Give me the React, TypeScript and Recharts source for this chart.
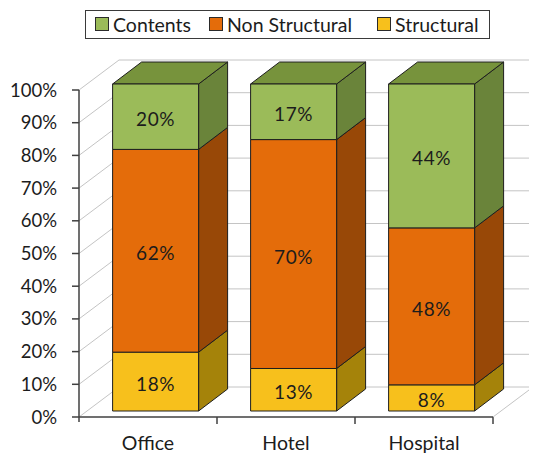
import React from 'react';
import { BarChart, Bar, XAxis, YAxis, CartesianGrid, LabelList, Legend } from 'recharts';

const categories = ['Office', 'Hotel', 'Hospital'];
const structural = [18, 13, 8];
const nonStructural = [62, 70, 48];
const contents = [20, 17, 44];
const yTicks = [0, 10, 20, 30, 40, 50, 60, 70, 80, 90, 100];
const seriesKeys = ['structural', 'nonStructural', 'contents'];
const seriesNames = ['Structural', 'Non Structural', 'Contents'];

const data = categories.map((c, i) => ({
  name: c,
  structural: structural[i],
  nonStructural: nonStructural[i],
  contents: contents[i],
}));

const FONT = 'Lato, "DejaVu Sans", sans-serif';
const TEXT = '#1c1c1c';
const WALL_DX = 40;
const WALL_DY = -30;
const FRONT_DX = 7.6;
const FRONT_DY = -6;
const BAR_DX = 29;
const BAR_DY = -22;

const COLORS: Record<string, { front: string; side: string; top: string }> = {
  structural: { front: '#F7C01C', side: '#A5830A', top: '#C89B0E' },
  nonStructural: { front: '#E46C0A', side: '#984807', top: '#B2560A' },
  contents: { front: '#9BBB59', side: '#6A843A', top: '#77933C' },
};

const makeShape = (key: string, drawTop: boolean) => (props: any) => {
  const { x, y, width, height } = props;
  if (!height) return <g />;
  const c = COLORS[key];
  const fx = x + FRONT_DX;
  const fy = y + FRONT_DY;
  const r = fx + width;
  const b = fy + height;
  return (
    <g stroke="#1e1e1e" strokeWidth={1} strokeLinejoin="round">
      <path d={`M${r},${fy} L${r + BAR_DX},${fy + BAR_DY} L${r + BAR_DX},${b + BAR_DY} L${r},${b} Z`} fill={c.side} />
      {drawTop && (
        <path d={`M${fx},${fy} L${fx + BAR_DX},${fy + BAR_DY} L${r + BAR_DX},${fy + BAR_DY} L${r},${fy} Z`} fill={c.top} />
      )}
      <rect x={fx} y={fy} width={width} height={height} fill={c.front} />
    </g>
  );
};

const barLabel = (p: any) => (
  <text
    x={p.x + p.width / 2 + FRONT_DX}
    y={p.y + p.height / 2 + FRONT_DY + 2}
    textAnchor="middle"
    dominantBaseline="central"
    fontSize={19}
    letterSpacing={0.6}
    fontFamily={FONT}
    fill={TEXT}
  >
    {`${p.value}%`}
  </text>
);

const gridLine = (p: any) => {
  const { x1, y1, x2 } = p;
  return (
    <path
      key={p.key ?? `g-${y1}`}
      d={`M${x1},${y1} L${x1 + WALL_DX},${y1 + WALL_DY} L${x2 + WALL_DX},${y1 + WALL_DY}`}
      fill="none"
      stroke="#C4C4C4"
      strokeWidth={1}
    />
  );
};

const XTick = (p: any) => {
  const { x, y, payload, index, visibleTicksCount, width } = p;
  const half = payload && typeof payload.offset === 'number' && payload.offset > 0 ? payload.offset : width / visibleTicksCount / 2;
  return (
    <g>
      <text x={x} y={y + 25} textAnchor="middle" dominantBaseline="central" fontSize={19.5} fontFamily={FONT} fill={TEXT}>
        {payload.value}
      </text>
      <line x1={x + half} y1={y} x2={x + half} y2={y + 7} stroke="#404040" strokeWidth={1.5} />
      {index === 0 && <line x1={x - half} y1={y} x2={x - half} y2={y + 5} stroke="#404040" strokeWidth={1.5} />}
      {index === visibleTicksCount - 1 && (
        <path d={`M${x + half},${y} L${x + half + WALL_DX},${y + WALL_DY}`} stroke="#C4C4C4" strokeWidth={1} fill="none" />
      )}
    </g>
  );
};

const legendOrder = [2, 1, 0];
const legendLefts = [9, 123, 291];

const LegendBox = () => (
  <div
    style={{
      position: 'relative',
      width: 405,
      height: 29,
      boxSizing: 'border-box',
      border: '1.5px solid #3a3a3a',
      background: '#fff',
      fontFamily: FONT,
      fontSize: 19.5,
      color: TEXT,
    }}
  >
    {legendOrder.map((si, i) => (
      <div
        key={seriesKeys[si]}
        style={{ position: 'absolute', left: legendLefts[i], top: 0, height: 26, display: 'flex', alignItems: 'center', whiteSpace: 'nowrap' }}
      >
        <span
          style={{
            display: 'inline-block',
            width: 12,
            height: 12,
            background: COLORS[seriesKeys[si]].front,
            border: '1px solid #2a2a2a',
            marginRight: 4,
          }}
        />
        <span>{seriesNames[si]}</span>
      </div>
    ))}
  </div>
);

export default function App() {
  return (
    <div style={{ width: 529, height: 446, fontFamily: FONT, position: 'relative' }}>
      <BarChart width={529} height={446} data={data} margin={{ top: 82, right: 44, bottom: 0, left: 0 }} barCategoryGap={0}>
        <CartesianGrid vertical={false} horizontal={gridLine} />
        <XAxis
          dataKey="name"
          height={37}
          tickSize={0}
          tickMargin={0}
          tickLine={false}
          axisLine={{ stroke: '#404040', strokeWidth: 1.5 }}
          tick={XTick}
          interval={0}
        />
        <YAxis
          width={71}
          domain={[0, 100]}
          ticks={yTicks}
          interval={0}
          tickFormatter={(v: number) => `${v}%`}
          tickSize={7}
          tickMargin={15}
          axisLine={{ stroke: '#404040', strokeWidth: 1.5 }}
          tickLine={{ stroke: '#404040', strokeWidth: 1.5 }}
          tick={{ fill: TEXT, fontSize: 18.5, fontFamily: FONT }}
        />
        <Legend
          layout="horizontal"
          verticalAlign="middle"
          align="center"
          wrapperStyle={{ position: 'absolute', top: 2, left: 77, width: 405, height: 29 }}
          content={() => <LegendBox />}
        />
        {seriesKeys.map((k, i) => (
          <Bar
            key={k}
            dataKey={k}
            name={seriesNames[i]}
            stackId="a"
            barSize={86}
            fill={COLORS[k].front}
            isAnimationActive={false}
            shape={makeShape(k, k === 'contents')}
          >
            <LabelList dataKey={k} content={barLabel} />
          </Bar>
        ))}
      </BarChart>
    </div>
  );
}
